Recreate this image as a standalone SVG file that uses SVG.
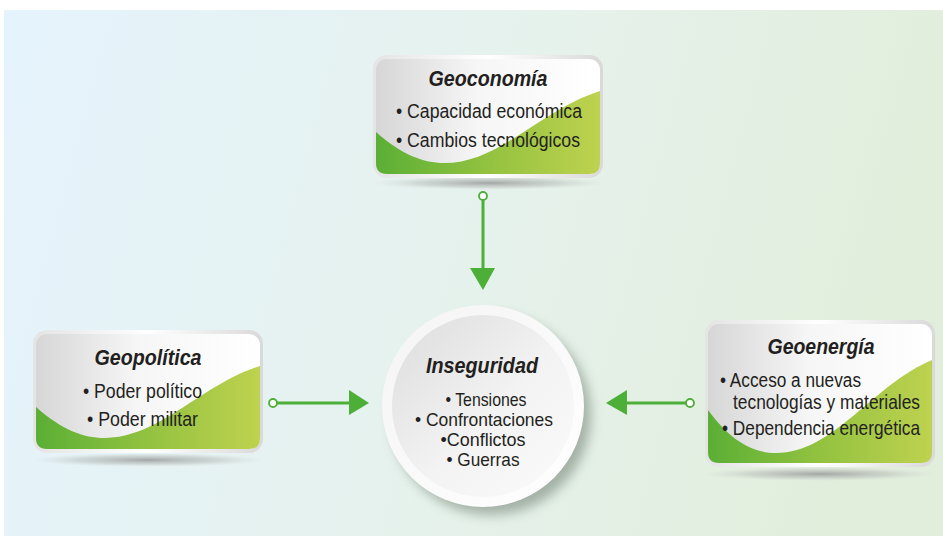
<svg xmlns="http://www.w3.org/2000/svg" width="943" height="536" viewBox="0 0 943 536">
  <defs>
    <linearGradient id="bg" x1="0" y1="0" x2="1" y2="0.15">
      <stop offset="0" stop-color="#E5F3FD"/>
      <stop offset="0.5" stop-color="#E6F2EE"/>
      <stop offset="1" stop-color="#E2EEDC"/>
    </linearGradient>
    <linearGradient id="panel" x1="0" y1="0" x2="1" y2="0">
      <stop offset="0" stop-color="#D6D6D6"/>
      <stop offset="0.45" stop-color="#F6F6F6"/>
      <stop offset="1" stop-color="#FFFFFF"/>
    </linearGradient>
    <linearGradient id="frame" x1="0" y1="0" x2="1" y2="0">
      <stop offset="0" stop-color="#E4E4E4"/>
      <stop offset="0.5" stop-color="#FFFFFF"/>
      <stop offset="1" stop-color="#D9D9D9"/>
    </linearGradient>
    <linearGradient id="wave" x1="0" y1="0" x2="1" y2="0">
      <stop offset="0" stop-color="#5AAF35"/>
      <stop offset="0.5" stop-color="#93C240"/>
      <stop offset="1" stop-color="#BED24F"/>
    </linearGradient>
    <radialGradient id="drop" cx="0.5" cy="0.5" r="0.5">
      <stop offset="0" stop-color="#9A9E9C" stop-opacity="0.9"/>
      <stop offset="0.6" stop-color="#B8BDBA" stop-opacity="0.5"/>
      <stop offset="1" stop-color="#D0D6D2" stop-opacity="0"/>
    </radialGradient>
    <linearGradient id="disc" x1="0" y1="0" x2="1" y2="1">
      <stop offset="0" stop-color="#DCDCDC"/>
      <stop offset="0.55" stop-color="#F3F3F3"/>
      <stop offset="1" stop-color="#FBFBFB"/>
    </linearGradient>
    <linearGradient id="rim" x1="0" y1="0" x2="1" y2="1">
      <stop offset="0" stop-color="#F4F4F4"/>
      <stop offset="1" stop-color="#FFFFFF"/>
    </linearGradient>
    <filter id="soft" x="-30%" y="-30%" width="160%" height="160%">
      <feGaussianBlur stdDeviation="6"/>
    </filter>
  </defs>
  <style>
    .t { font-family: "Liberation Sans", Arial, sans-serif; fill: #231F20; }
    .title { font-size: 22px; font-weight: bold; font-style: italic; text-anchor: middle; }
    .item { font-size: 20px; }
    .small { font-size: 18.5px; text-anchor: middle; }
    .edge { stroke: #4DAE38; stroke-width: 3; fill: none; }
    .arrow { fill: #4DAE38; }
    .dot { fill: #FFFFFF; stroke: #4DAE38; stroke-width: 1.8; }
  </style>

  <!-- backdrop -->
  <rect x="4" y="10" width="939" height="526" fill="url(#bg)"/>

  <!-- Geoconomía -->
  <g id="geoconomia">
    <ellipse cx="489" cy="183" rx="118" ry="7" fill="url(#drop)"/>
    <rect x="373" y="55" width="230" height="123" rx="14" fill="url(#frame)"/>
    <rect x="376" y="59" width="224" height="115" rx="11" fill="url(#panel)"/>
    <path d="M376,132 C402,155 424,163 444,163 C500,163 540,110 600,91 L600,163 Q600,174 589,174 L387,174 Q376,174 376,163 Z" fill="url(#wave)"/>
    <text class="t title" x="488" y="86" textLength="119" lengthAdjust="spacingAndGlyphs">Geoconomía</text>
    <text class="t item" x="396" y="118" textLength="186" lengthAdjust="spacingAndGlyphs">• Capacidad económica</text>
    <text class="t item" x="396" y="147" textLength="184" lengthAdjust="spacingAndGlyphs">• Cambios tecnológicos</text>
  </g>

  <!-- Geopolítica -->
  <g id="geopolitica">
    <ellipse cx="148" cy="460" rx="118" ry="7" fill="url(#drop)"/>
    <rect x="33" y="330" width="230" height="123" rx="14" fill="url(#frame)"/>
    <rect x="36" y="334" width="224" height="115" rx="11" fill="url(#panel)"/>
    <path d="M36,407 C62,430 84,438 104,438 C160,438 200,385 260,366 L260,438 Q260,449 249,449 L47,449 Q36,449 36,438 Z" fill="url(#wave)"/>
    <text class="t title" x="148" y="365" textLength="107" lengthAdjust="spacingAndGlyphs">Geopolítica</text>
    <text class="t item" x="83" y="398" textLength="119" lengthAdjust="spacingAndGlyphs">• Poder político</text>
    <text class="t item" x="87" y="426" textLength="111" lengthAdjust="spacingAndGlyphs">• Poder militar</text>
  </g>

  <!-- Geoenergía -->
  <g id="geoenergia">
    <ellipse cx="820" cy="474" rx="118" ry="7" fill="url(#drop)"/>
    <rect x="705" y="320" width="230" height="147" rx="14" fill="url(#frame)"/>
    <rect x="708" y="324" width="224" height="139" rx="11" fill="url(#panel)"/>
    <path d="M708,410 C730,440 752,453 776,453 C834,453 872,385 932,360 L932,452 Q932,463 921,463 L719,463 Q708,463 708,452 Z" fill="url(#wave)"/>
    <text class="t title" x="821" y="354" textLength="107" lengthAdjust="spacingAndGlyphs">Geoenergía</text>
    <text class="t item" x="720" y="387" textLength="141" lengthAdjust="spacingAndGlyphs">• Acceso a nuevas</text>
    <!-- long lines drawn in a horizontally condensed frame so they stay inside the panel -->
    <text class="t item" transform="translate(733,409) scale(0.82,1)" x="0" y="0" textLength="228" lengthAdjust="spacingAndGlyphs">tecnologías y materiales</text>
    <text class="t item" transform="translate(722,435) scale(0.82,1)" x="0" y="0" textLength="241.5" lengthAdjust="spacingAndGlyphs">• Dependencia energética</text>
  </g>

  <!-- Inseguridad -->
  <g id="inseguridad">
    <circle cx="491" cy="415" r="100" fill="#8E9C90" opacity="0.75" filter="url(#soft)"/>
    <circle cx="483" cy="406" r="101" fill="url(#rim)"/>
    <circle cx="483" cy="406" r="91" fill="url(#disc)"/>
    <text class="t title" x="482" y="373" textLength="112" lengthAdjust="spacingAndGlyphs">Inseguridad</text>
    <text class="t small" x="486" y="406" textLength="81" lengthAdjust="spacingAndGlyphs">• Tensiones</text>
    <text class="t small" x="484" y="426" textLength="138" lengthAdjust="spacingAndGlyphs">• Confrontaciones</text>
    <text class="t small" x="483" y="446" textLength="85" lengthAdjust="spacingAndGlyphs">•Conflictos</text>
    <text class="t small" x="483" y="466" textLength="73" lengthAdjust="spacingAndGlyphs">• Guerras</text>
  </g>

  <!-- connectors -->
  <g id="connectors">
    <line class="edge" x1="483" y1="200" x2="483" y2="270"/>
    <path class="arrow" d="M470,268 L495,268 L483,290 Z"/>
    <line class="edge" x1="277" y1="403" x2="350" y2="403"/>
    <path class="arrow" d="M349,390 L369,403 L349,415 Z"/>
    <line class="edge" x1="686" y1="403" x2="626" y2="403"/>
    <path class="arrow" d="M627,390 L606,403 L627,415 Z"/>
    <circle class="dot" cx="483" cy="196" r="4"/>
    <circle class="dot" cx="273" cy="403" r="4"/>
    <circle class="dot" cx="690" cy="403" r="4"/>
  </g>
</svg>
